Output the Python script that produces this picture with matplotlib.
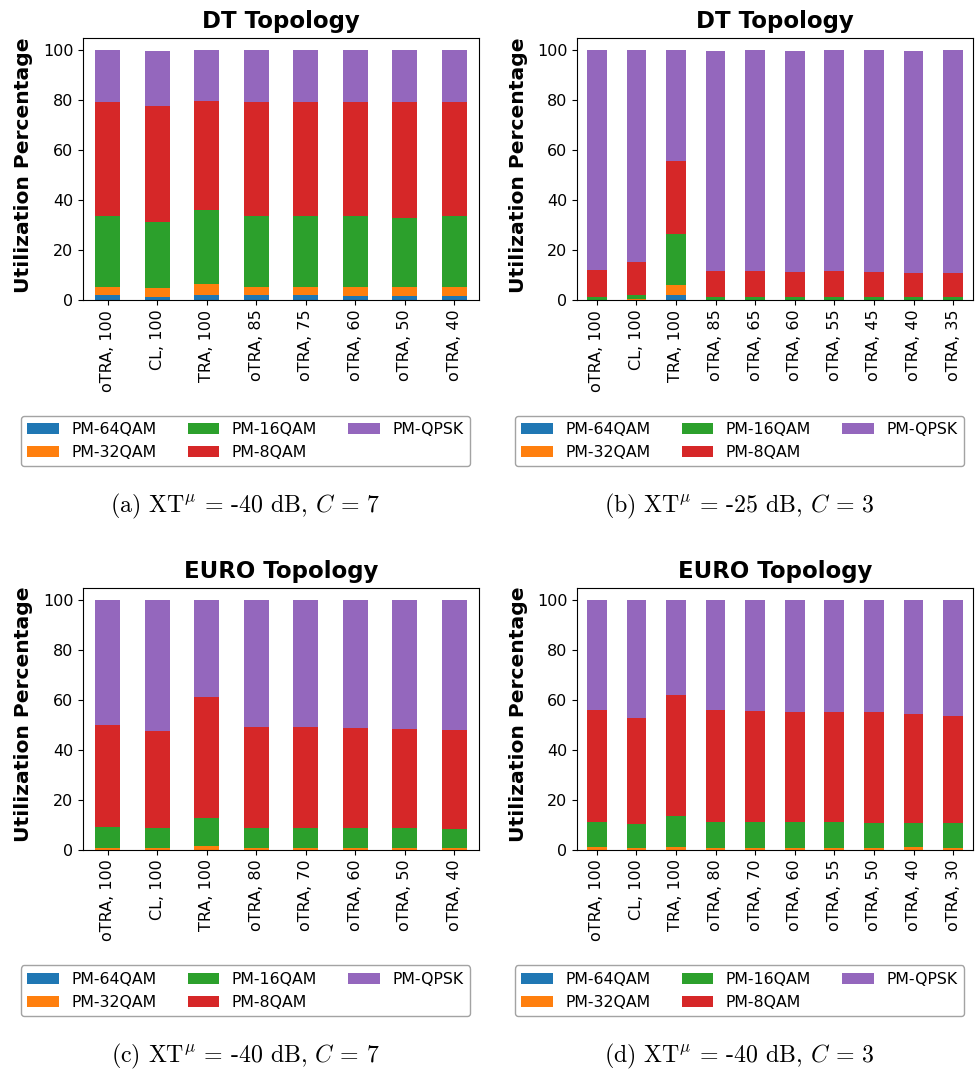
import matplotlib
matplotlib.use("Agg")
import matplotlib.pyplot as plt
import numpy as np

plt.rcParams["mathtext.fontset"] = "cm"

modulations = ["PM-64QAM", "PM-32QAM", "PM-16QAM", "PM-8QAM", "PM-QPSK"]
colors = ["#1f77b4", "#ff7f0e", "#2ca02c", "#d62728", "#9467bd"]

# (a) DT topology, XT = -40 dB, C = 7
labels_a = ["oTRA, 100", "CL, 100", "TRA, 100", "oTRA, 85", "oTRA, 75",
            "oTRA, 60", "oTRA, 50", "oTRA, 40"]
a_64qam = [2.1, 1.3, 2.1, 2.1, 2.1, 1.7, 1.7, 1.7]
a_32qam = [3.3, 3.6, 4.5, 3.3, 3.3, 3.7, 3.7, 3.7]
a_16qam = [28.2, 26.2, 29.6, 28.2, 28.2, 28.2, 27.6, 28.2]
a_8qam = [45.5, 46.4, 43.3, 45.5, 45.5, 45.5, 46.1, 45.5]
a_qpsk = [20.9, 22.1, 20.5, 20.9, 20.9, 20.9, 20.9, 20.9]

# (b) DT topology, XT = -25 dB, C = 3
labels_b = ["oTRA, 100", "CL, 100", "TRA, 100", "oTRA, 85", "oTRA, 65",
            "oTRA, 60", "oTRA, 55", "oTRA, 45", "oTRA, 40", "oTRA, 35"]
b_64qam = [0.0, 0.0, 2.1, 0.0, 0.0, 0.0, 0.0, 0.0, 0.0, 0.0]
b_32qam = [0.0, 0.3, 4.1, 0.0, 0.0, 0.0, 0.0, 0.0, 0.0, 0.0]
b_16qam = [1.3, 1.8, 20.4, 1.3, 1.3, 1.3, 1.3, 1.3, 1.3, 1.3]
b_8qam = [10.9, 13.3, 28.9, 10.5, 10.5, 10.1, 10.5, 10.1, 9.7, 9.7]
b_qpsk = [87.8, 84.6, 44.5, 87.8, 88.2, 88.2, 88.2, 88.6, 88.6, 89.0]

# (c) EURO topology, XT = -40 dB, C = 7
labels_c = ["oTRA, 100", "CL, 100", "TRA, 100", "oTRA, 80", "oTRA, 70",
            "oTRA, 60", "oTRA, 50", "oTRA, 40"]
c_64qam = [0.0, 0.0, 0.0, 0.0, 0.0, 0.0, 0.0, 0.0]
c_32qam = [0.5, 0.5, 1.3, 0.5, 0.5, 0.5, 0.5, 0.5]
c_16qam = [8.5, 8.1, 11.3, 8.1, 8.1, 8.1, 8.1, 7.7]
c_8qam = [40.9, 38.9, 48.5, 40.5, 40.5, 40.1, 39.7, 39.7]
c_qpsk = [50.1, 52.5, 38.9, 50.9, 50.9, 51.3, 51.7, 52.1]

# (d) EURO topology, XT = -40 dB, C = 3
labels_d = ["oTRA, 100", "CL, 100", "TRA, 100", "oTRA, 80", "oTRA, 70",
            "oTRA, 60", "oTRA, 55", "oTRA, 50", "oTRA, 40", "oTRA, 30"]
d_64qam = [0.0, 0.0, 0.0, 0.0, 0.0, 0.0, 0.0, 0.0, 0.0, 0.0]
d_32qam = [0.9, 0.5, 0.9, 0.5, 0.5, 0.5, 0.5, 0.5, 0.9, 0.5]
d_16qam = [10.1, 9.7, 12.5, 10.5, 10.5, 10.5, 10.5, 10.1, 9.7, 10.1]
d_8qam = [44.9, 42.5, 48.5, 44.9, 44.5, 44.1, 44.1, 44.5, 43.7, 42.9]
d_qpsk = [44.1, 47.3, 38.1, 44.1, 44.5, 44.9, 44.9, 44.9, 45.7, 46.5]

panels = [
    ("DT Topology", labels_a, [a_64qam, a_32qam, a_16qam, a_8qam, a_qpsk],
     r"(a) $\mathrm{XT}^{\mu}$ = -40 dB, $C$ = 7"),
    ("DT Topology", labels_b, [b_64qam, b_32qam, b_16qam, b_8qam, b_qpsk],
     r"(b) $\mathrm{XT}^{\mu}$ = -25 dB, $C$ = 3"),
    ("EURO Topology", labels_c, [c_64qam, c_32qam, c_16qam, c_8qam, c_qpsk],
     r"(c) $\mathrm{XT}^{\mu}$ = -40 dB, $C$ = 7"),
    ("EURO Topology", labels_d, [d_64qam, d_32qam, d_16qam, d_8qam, d_qpsk],
     r"(d) $\mathrm{XT}^{\mu}$ = -40 dB, $C$ = 3"),
]

W, H = 975, 1069
fig = plt.figure(figsize=(W / 100, H / 100), dpi=100)

# pixel layout: (axes left, axes top, axes bottom, sub-figure centre x)
ax_w = 396
geometry = [
    (83, 37.7, 300.0, 245.5),
    (577, 37.7, 300.0, 739.5),
    (83, 587.5, 849.5, 245.5),
    (577, 587.5, 849.5, 739.5),
]

tick_fs = 11.5
for (title, labels, series, caption), (left, top, bottom, cx) in zip(panels, geometry):
    ax = fig.add_axes([left / W, 1 - bottom / H, ax_w / W, (bottom - top) / H])
    x = np.arange(len(labels))
    base = np.zeros(len(labels))
    handles = []
    for name, vals, col in zip(modulations, series, colors):
        vals = np.asarray(vals, dtype=float)
        h = ax.bar(x, vals, width=0.5, bottom=base, color=col, label=name)
        handles.append(h)
        base = base + vals
    ax.set_xlim(-0.5, len(labels) - 0.5)
    ax.set_ylim(0, 105)
    ax.set_yticks([0, 20, 40, 60, 80, 100])
    ax.set_xticks(x)
    ax.set_xticklabels(labels, rotation=90, fontsize=tick_fs)
    ax.tick_params(axis="y", labelsize=tick_fs)
    ax.set_title(title, fontsize=16.5, fontweight="bold", pad=7)
    ax.set_ylabel("Utilization Percentage", fontsize=14.6, fontweight="bold")
    ax.yaxis.set_label_coords(-0.125, 0.515)

    leg_cy = 1 - (bottom + 141.2) / H
    fig.legend(handles=handles, labels=modulations, loc="center",
               bbox_to_anchor=(cx / W, leg_cy), ncol=3, fontsize=11.3,
               frameon=True, edgecolor="0.55", fancybox=True)

    fig.text(cx / W, 1 - (bottom + 206.5) / H, caption, ha="center",
             va="center", fontsize=17.2, fontfamily="cmr10")

fig.savefig("out.png", dpi=100)
